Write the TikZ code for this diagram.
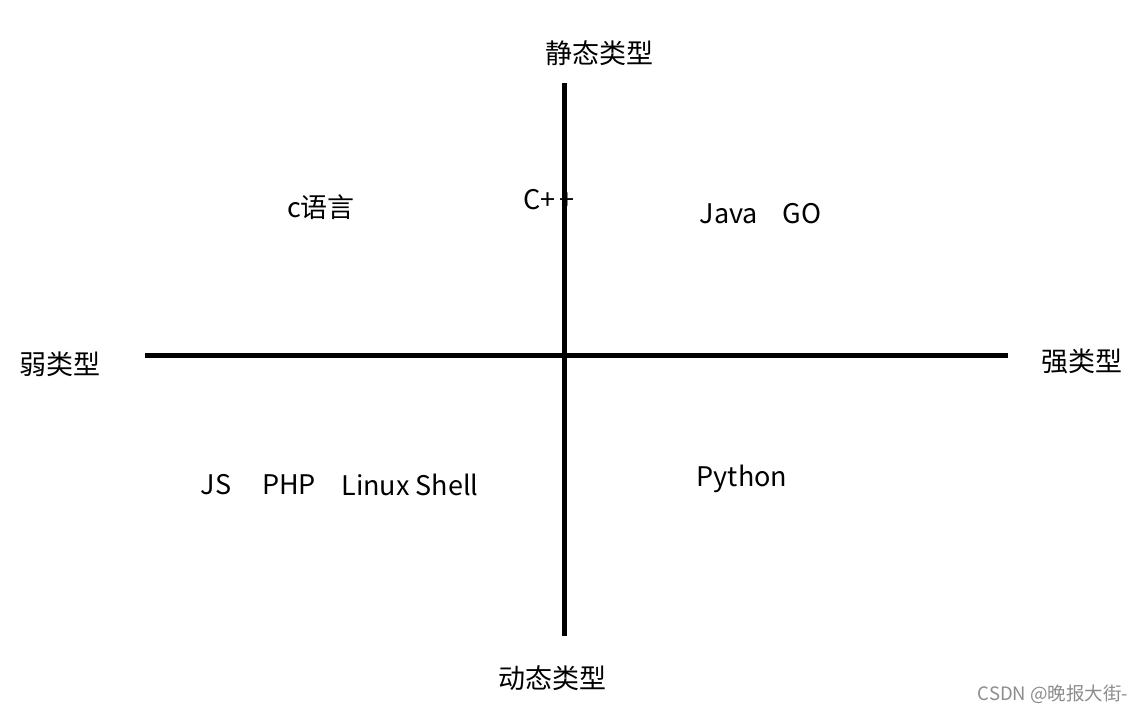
\documentclass[tikz,border=0pt]{standalone}
\usepackage{fontspec}
\setmainfont{Noto Sans CJK SC}
\usetikzlibrary{calc}
\tikzstyle{lbl}=[inner sep=0, font=\fontsize{27}{31}\selectfont]
\tikzstyle{ax}=[line width=5pt]
\tikzstyle{wm}=[inner sep=0, text=black!45, font=\fontsize{18.5}{22}\selectfont]

\begin{document}
\begin{tikzpicture}[x=1pt,y=-1pt]
\useasboundingbox (0,0) rectangle (1144,713);
\coordinate (top) at (564,83);
\coordinate (bot) at (564,636);
\coordinate (lft) at (145,355);
\coordinate (rgt) at (1008,355);
\draw[ax] (top)--(bot);
\draw[ax] (lft)--(rgt);
% axis names
\node at (599,53)[lbl](static){静态类型};
\node at (552,678)[lbl](dynamic){动态类型};
\node at (60,364)[lbl](weak){弱类型};
\node at (1082,361)[lbl](strong){强类型};
% languages
\node at (549,200)[lbl](cpp){C+\,+};
\node at (321,207)[lbl](clang){c语言};
\node at (729,214)[lbl](java){Java};
\node at (802,214)[lbl](go){GO};
\node at (216,485)[lbl](js){JS};
\node at (289,485)[lbl](php){PHP};
\node at (410,485)[lbl](shell){Linux Shell};
\node at (742,479)[lbl](python){Python};
\node at (1053,694)[wm](mark){CSDN @晚报大街-};
\end{tikzpicture}
\end{document}
